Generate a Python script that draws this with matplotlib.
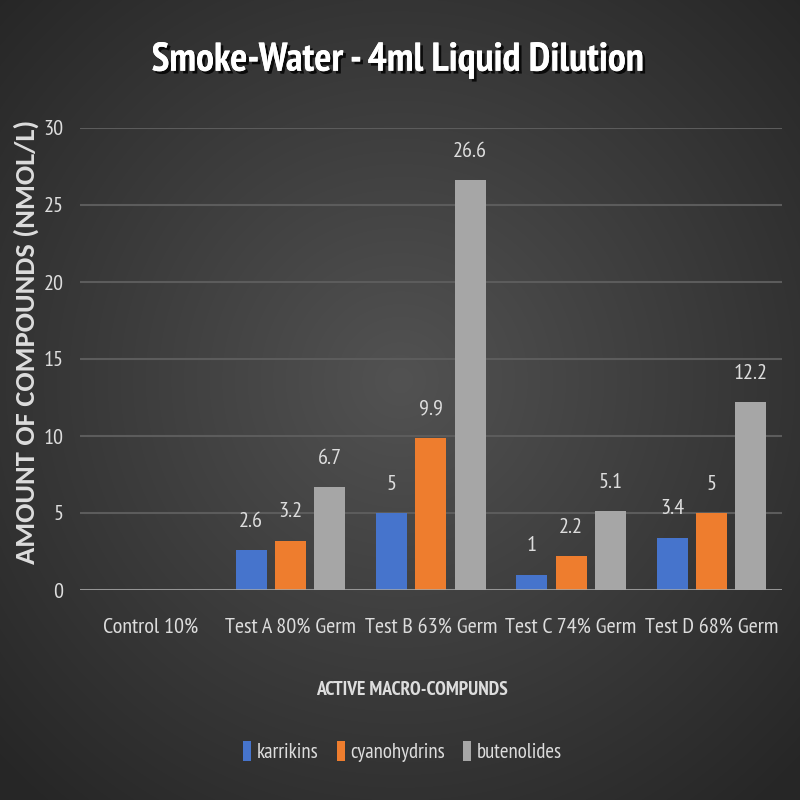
import numpy as np
import matplotlib
matplotlib.use("Agg")
import matplotlib.pyplot as plt
import matplotlib.patheffects as pe

categories = ["Control 10%", "Test A 80% Germ", "Test B 63% Germ", "Test C 74% Germ", "Test D 68% Germ"]
series_names = ["karrikins", "cyanohydrins", "butenolides"]
karrikins = [0, 2.6, 5, 1, 3.4]
cyanohydrins = [0, 3.2, 9.9, 2.2, 5]
butenolides = [0, 6.7, 26.6, 5.1, 12.2]
yticks = [0, 5, 10, 15, 20, 25, 30]

colors = ["#4674CC", "#EE7D2E", "#A6A6A6"]
NARROW = ["PT Sans Narrow", "DejaVu Sans"]
plt.rcParams['font.family'] = NARROW
TXT = '#DDDDDD'

fig = plt.figure(figsize=(8, 8), dpi=100)

# background radial gradient
bg = fig.add_axes([0, 0, 1, 1], zorder=-10)
yy, xx = np.mgrid[0:800, 0:800]
r = np.sqrt(((xx - 400) / 560.0) ** 2 + ((yy - 380) / 560.0) ** 2)
r = np.clip(r, 0, 1)
inner = np.array([0x52, 0x52, 0x52]) / 255.0
outer = np.array([0x26, 0x26, 0x26]) / 255.0
img = inner[None, None, :] * (1 - r[..., None]) + outer[None, None, :] * r[..., None]
bg.imshow(img, extent=[0, 1, 0, 1], aspect='auto', origin='upper')
bg.axis('off')

ax = fig.add_axes([0.10, 0.2625, 0.877, 0.5775])
ax.set_facecolor('none')
x = np.arange(len(categories))
width = 0.22
step = 0.28
all_series = [karrikins, cyanohydrins, butenolides]
for i, (vals, c, name) in enumerate(zip(all_series, colors, series_names)):
    pos = x + (i - 1) * step
    bars = ax.bar(pos, vals, width=width, color=c, label=name, zorder=3)
    for b, v in zip(bars, vals):
        if v:
            ax.text(b.get_x() + b.get_width() / 2, v + 1.25, f"{v:g}", ha='center', va='bottom',
                    color=TXT, fontsize=16, zorder=4)

ax.set_xlim(-0.5, len(categories) - 0.5)
ax.set_ylim(0, 30)
ax.set_yticks(yticks)
ax.set_xticks(x)
ax.set_xticklabels(categories, color=TXT, fontsize=16)
ax.tick_params(axis='y', colors=TXT, labelsize=16, length=0, pad=12)
ax.tick_params(axis='x', colors=TXT, length=0, pad=20)
for s in ax.spines.values():
    s.set_visible(False)
ax.yaxis.grid(True, color='#5C5C5C', linewidth=1.5, zorder=0)
ax.axhline(0, color='#A8A8A8', linewidth=1.8, zorder=5)

ax.set_ylabel("AMOUNT OF COMPOUNDS (NMOL/L)", color=TXT, fontsize=20.5, fontweight='bold',
              family=["Carlito", "DejaVu Sans"])
ax.yaxis.set_label_coords(-0.058, 0.537)
ax.set_xlabel("ACTIVE MACRO-COMPUNDS", color=TXT, fontsize=14, fontweight='bold')
ax.xaxis.set_label_coords(0.473, -0.196)

fig.text(0.497, 0.925, "Smoke-Water - 4ml Liquid Dilution", ha='center', va='center', color='white',
         fontsize=29, fontweight='bold',
         path_effects=[pe.withSimplePatchShadow(offset=(2, -2), shadow_rgbFace='black', alpha=0.8), pe.Normal()])

leg = ax.legend(loc='center', ncol=3, frameon=False,
                fontsize=15, handlelength=0.38, handleheight=1.1, handletextpad=0.25, columnspacing=0.9,
                labelcolor=TXT)
leg.set_bbox_to_anchor((0.503, 0.061), transform=fig.transFigure)

fig.savefig("out.png", dpi=100)
